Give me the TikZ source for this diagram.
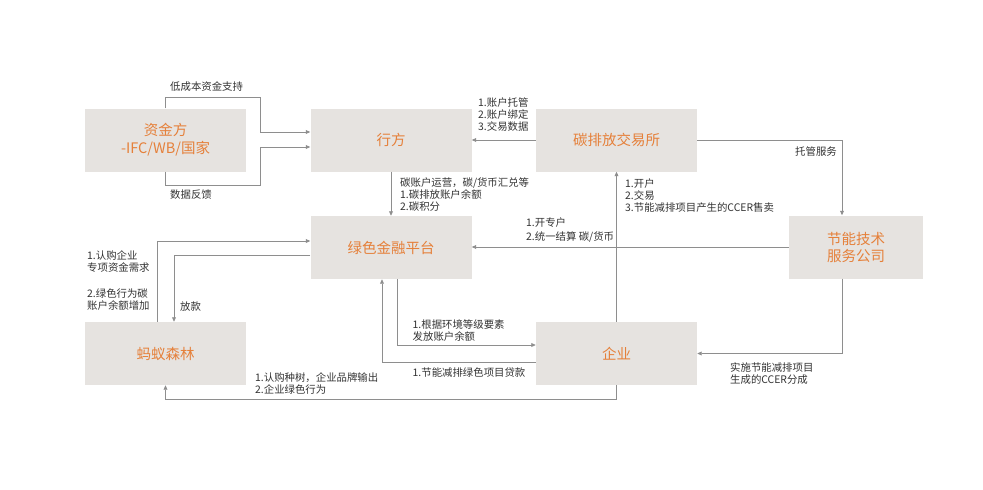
\documentclass[tikz,border=0pt]{standalone}
\usepackage{fontspec}
\setmainfont{Noto Sans CJK SC}
\usetikzlibrary{arrows.meta}
\definecolor{boxgray}{HTML}{E6E3E0}
\definecolor{boxtxt}{HTML}{E5803A}
\definecolor{linegray}{HTML}{8E8E8E}
\definecolor{lbltxt}{HTML}{333333}
\tikzset{
  box/.style={fill=boxgray, draw=none, minimum width=161pt, minimum height=63pt, inner sep=0pt,
    text=boxtxt, font=\fontsize{14.5}{18}\selectfont, align=center},
  arr/.style={draw=linegray, line width=0.8pt, -{Triangle[length=4.5pt,width=3.8pt]}},
  lbl/.style={text=lbltxt, font=\fontsize{10.4}{12}\selectfont, align=left, inner sep=0pt, anchor=west},
}
\begin{document}
\begin{tikzpicture}[x=1pt,y=-1pt]
\useasboundingbox[fill=white] (0,0) rectangle (983,490);
% boxes
\node[box] (zj) at (165.5,140) {资金方\\-IFC/WB/国家};
\node[box] (hf) at (391,140) {行方};
\node[box] (tp) at (616.5,140) {碳排放交易所};
\node[box] (lj) at (391,247.5) {绿色金融平台};
\node[box, minimum width=134pt, font=\fontsize{14.5}{17}\selectfont] (jn) at (856,247) {节能技术\\服务公司};
\node[box] (qy) at (616.5,353.5) {企业};
\node[box] (my) at (165.5,353.5) {蚂蚁森林};
% bend coordinates
\coordinate (k1) at (260,97);
\coordinate (k2) at (260,132);
\coordinate (k3) at (260,185);
\coordinate (k4) at (260,147);
\coordinate (k5) at (616.5,399);
\coordinate (k6) at (397,345);
\coordinate (k7) at (382,362);
\coordinate (k8) at (157,241);
\coordinate (k9) at (174,255);
\coordinate (kj) at (842,0);
% connectors
\draw[arr] (zj.north) |- (k1) -- (k2) -- (hf.west |- k2);
\draw[arr] (zj.south) |- (k3) -- (k4) -- (hf.west |- k4);
\draw[arr] (tp.west) -- (hf.east);
\draw[arr] (tp.east) -| (jn.north -| kj);
\draw[arr] (hf.south) -- (lj.north);
\draw[arr] (qy.north) -- (tp.south);
\draw[arr] (qy.south) |- (k5) -| (my.south);
\draw[arr] (jn.west) -- (lj.east |- jn.west);
\draw[arr] (jn.south -| kj) |- (qy.east);
\draw[arr] (lj.south -| k6) -- (k6) -- (qy.west |- k6);
\draw[arr] (qy.west |- k7) -| (lj.south -| k7);
\draw[arr] (my.north -| k8) -- (k8) -- (lj.west |- k8);
\draw[arr] (lj.west |- k9) -| (my.north -| k9);
% labels
\node[lbl] (l1) at (170,87) {低成本资金支持};
\node[lbl] (l2) at (170,195) {数据反馈};
\node[lbl] (l3) at (478,115) {1.账户托管\\2.账户绑定\\3.交易数据};
\node[lbl] (l4) at (795,152) {托管服务};
\node[lbl] (l5) at (400,195) {碳账户运营，碳/货币汇兑等\\1.碳排放账户余额\\2.碳积分};
\node[lbl] (l6) at (625,195.5) {1.开户\\2.交易\\3.节能减排项目产生的CCER售卖};
\node[lbl, font=\fontsize{10.4}{14}\selectfont] (l7) at (526,230.5) {1.开专户\\2.统一结算 碳/货币};
\node[lbl] (l8) at (87,261.5) {1.认购企业\\专项资金需求};
\node[lbl] (l9) at (87,300) {2.绿色行为碳\\账户余额增加};
\node[lbl] (l10) at (180,306.5) {放款};
\node[lbl, font=\fontsize{10.4}{12.7}\selectfont] (l11) at (412.5,330.5) {1.根据环境等级要素\\发放账户余额};
\node[lbl] (l12) at (412.5,372.5) {1.节能减排绿色项目贷款};
\node[lbl] (l13) at (255,384) {1.认购种树，企业品牌输出\\2.企业绿色行为};
\node[lbl] (l14) at (730,374) {实施节能减排项目\\生成的CCER分成};
\end{tikzpicture}
\end{document}
